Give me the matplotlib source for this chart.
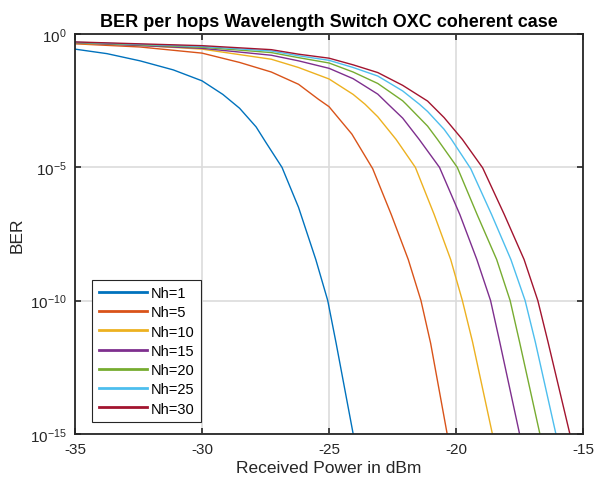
import numpy as np
import matplotlib.pyplot as plt

plt.rcParams['font.family'] = ['Liberation Sans', 'DejaVu Sans']
plt.rcParams['axes.unicode_minus'] = False

# received power (dBm) and log10(BER)
p_nh1 = [-35, -33.74, -32.44, -31.13, -30, -29.18, -28.52, -27.87, -27.48, -26.85, -26.2, -25.52, -25.05, -24.72, -24.05]
e_nh1 = [-0.56, -0.73, -1.0, -1.34, -1.75, -2.26, -2.78, -3.48, -4.07, -5.0, -6.5, -8.46, -10.0, -11.6, -15.0]

p_nh5 = [-35, -32.44, -30, -28.52, -27.27, -26.2, -25.42, -25.0, -24.1, -23.28, -22.55, -21.88, -21.38, -21.0, -20.35]
e_nh5 = [-0.36, -0.48, -0.71, -1.06, -1.42, -1.88, -2.44, -2.72, -3.75, -5.05, -6.77, -8.46, -10.0, -11.6, -15.0]

p_nh10 = [-35, -32.44, -30, -27.27, -26.2, -25, -24.05, -23.58, -23.08, -22.36, -21.6, -20.86, -20.21, -19.75, -19.35, -18.57]
e_nh10 = [-0.34, -0.42, -0.56, -0.94, -1.25, -1.68, -2.26, -2.63, -3.1, -3.95, -5.0, -6.77, -8.46, -10.0, -11.55, -15.0]

p_nh15 = [-35, -30, -27.27, -26.2, -25, -24.05, -23.08, -22.67, -22.1, -21.45, -20.65, -19.85, -19.18, -18.64, -18.28, -17.5]
e_nh15 = [-0.32, -0.53, -0.79, -1.0, -1.28, -1.67, -2.25, -2.63, -3.15, -3.95, -5.0, -6.77, -8.46, -10.0, -11.55, -15.0]

p_nh20 = [-35, -30, -27.27, -26.2, -25, -24.05, -23.08, -22.1, -21.96, -21.12, -20.73, -19.95, -19.17, -18.40, -17.87, -17.5, -16.7]
e_nh20 = [-0.31, -0.49, -0.69, -0.88, -1.08, -1.42, -1.85, -2.5, -2.63, -3.45, -3.95, -5.0, -6.77, -8.46, -10.0, -11.55, -15.0]

p_nh25 = [-35, -30, -27.27, -26.2, -25, -24.05, -23.08, -22.1, -21.44, -21.12, -20.47, -20.18, -19.42, -18.6, -17.84, -17.28, -16.88, -16.07]
e_nh25 = [-0.30, -0.46, -0.63, -0.81, -0.98, -1.25, -1.57, -2.13, -2.63, -2.9, -3.57, -3.95, -5.05, -6.77, -8.46, -10.0, -11.55, -15.0]

p_nh30 = [-35, -30, -27.27, -26.2, -25, -24.05, -23.08, -22.1, -21.12, -20.47, -19.75, -18.95, -18.1, -17.32, -16.78, -16.38, -15.52]
e_nh30 = [-0.29, -0.43, -0.58, -0.75, -0.90, -1.15, -1.44, -1.92, -2.51, -3.13, -3.95, -5.02, -6.77, -8.46, -10.0, -11.55, -15.0]

labels = ["Nh=1", "Nh=5", "Nh=10", "Nh=15", "Nh=20", "Nh=25", "Nh=30"]
colors = ["#0072BD", "#D95319", "#EDB120", "#7E2F8E", "#77AC30", "#4DBEEE", "#A2142F"]

powers = [p_nh1, p_nh5, p_nh10, p_nh15, p_nh20, p_nh25, p_nh30]
exps = [e_nh1, e_nh5, e_nh10, e_nh15, e_nh20, e_nh25, e_nh30]

fig = plt.figure(figsize=(5.97, 4.89), dpi=100)
ax = fig.add_axes([0.1256, 0.111, 0.851, 0.817])

for p, e, lab, c in zip(powers, exps, labels, colors):
    ax.semilogy(p, 10.0 ** np.array(e), color=c, lw=1.0, label=lab)

ax.set_xlim(-35, -15)
ax.set_ylim(1e-15, 1)
ax.set_xticks([-35, -30, -25, -20, -15])
ax.set_yticks([1e-15, 1e-10, 1e-5, 1e0])
ax.yaxis.set_minor_locator(plt.NullLocator())

ax.grid(True, color="#dcdcdc", lw=1.2)
ax.set_axisbelow(True)
ax.tick_params(direction="in", top=True, right=True, length=4, width=1.2,
               labelsize=11, colors="#262626", pad=6)
for s in ax.spines.values():
    s.set_linewidth(1.3)
    s.set_color("#262626")

ax.set_xlabel("Received Power in dBm", fontsize=12.5, color="#262626", labelpad=3)
ax.set_ylabel("BER", fontsize=12.5, color="#262626", labelpad=4)
ax.set_title("BER per hops Wavelength Switch OXC coherent case", fontsize=13,
             fontweight="bold", pad=6)

leg = ax.legend(loc="lower left", bbox_to_anchor=(0.0335, 0.029), borderaxespad=0,
                fontsize=10.5, handlelength=3.3, handletextpad=0.3, labelspacing=0.36,
                borderpad=0.45, fancybox=False, edgecolor="#262626", framealpha=1)
leg.get_frame().set_linewidth(0.8)
for line in leg.get_lines():
    line.set_linewidth(2.0)

plt.savefig("out.png", dpi=100)
